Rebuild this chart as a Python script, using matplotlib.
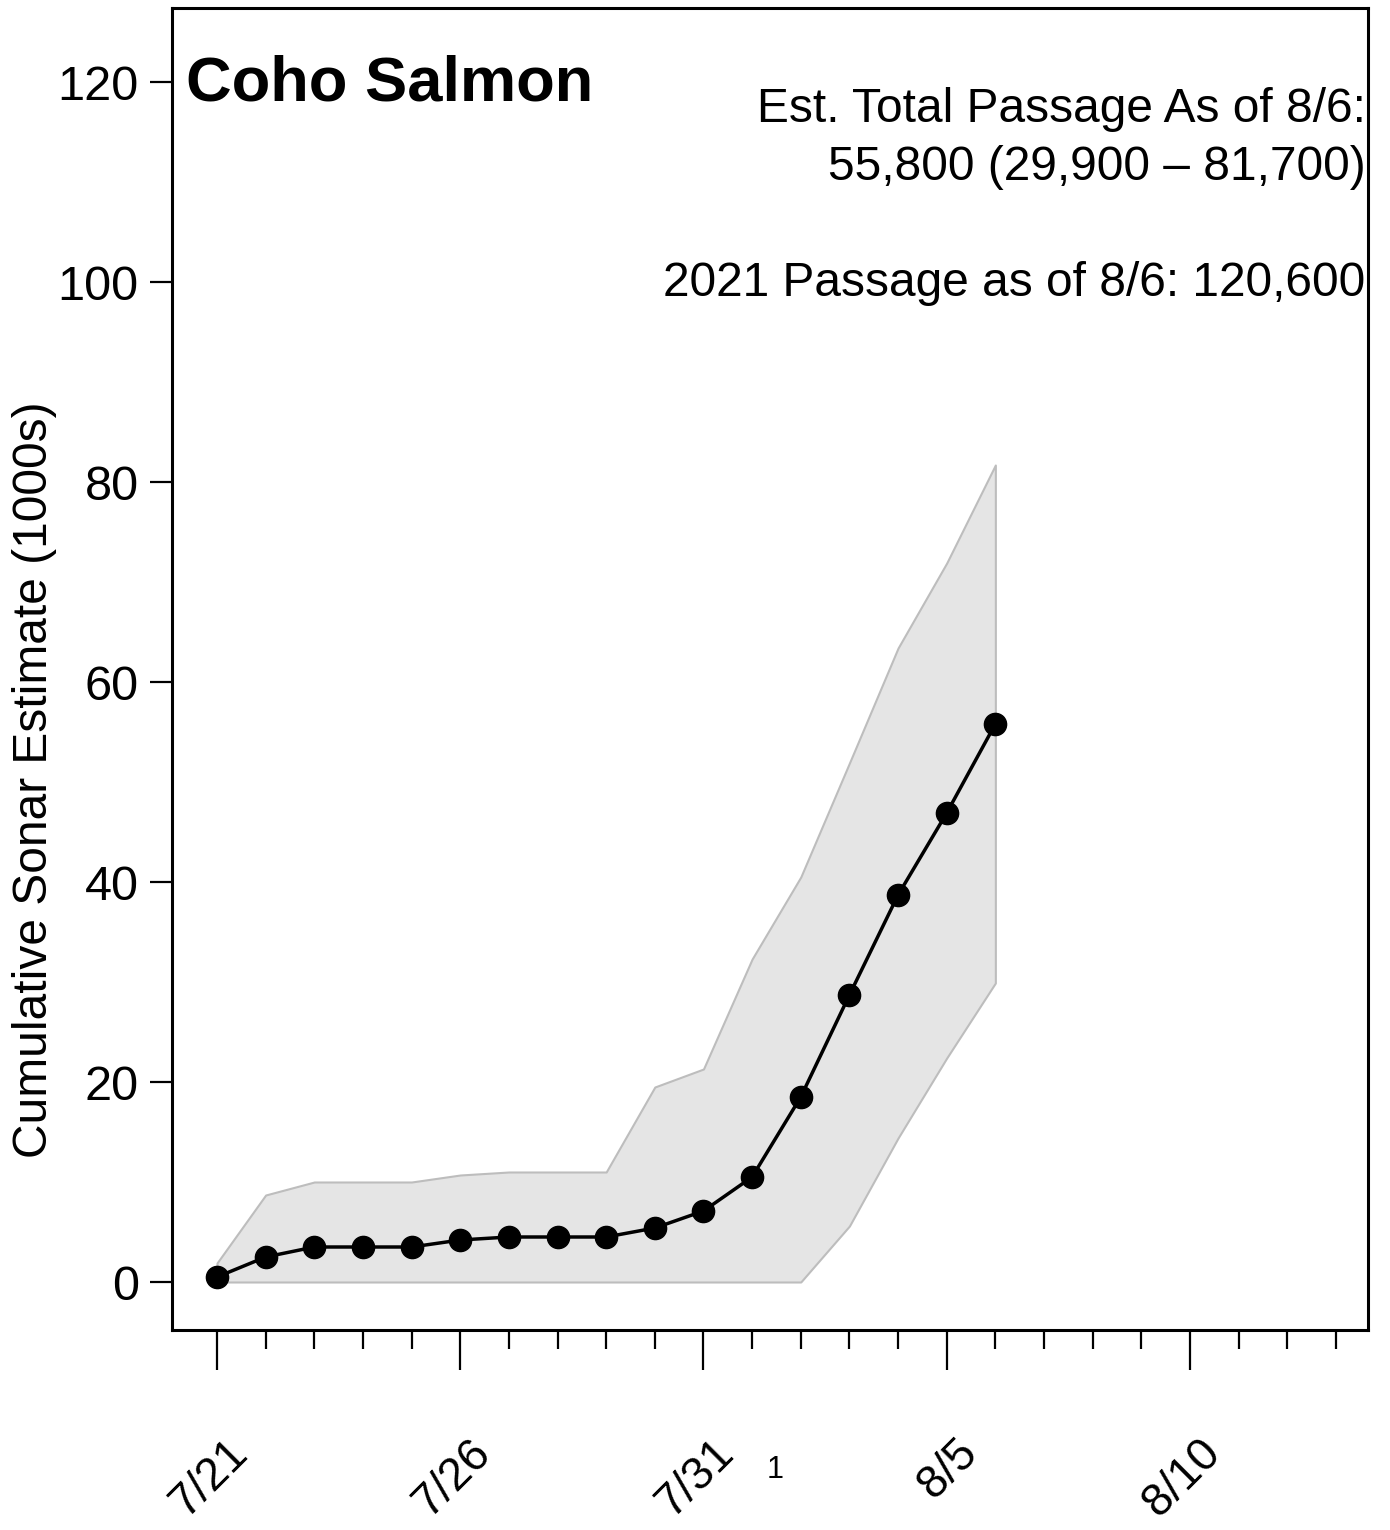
import numpy as np
import matplotlib.pyplot as plt
import matplotlib.transforms as mtransforms

plt.rcParams['font.family'] = ['Liberation Sans', 'DejaVu Sans']

# days since 7/21
days = np.arange(17)
est = [0.5, 2.5, 3.5, 3.5, 3.5, 4.2, 4.5, 4.5, 4.5, 5.4, 7.1, 10.5, 18.5, 28.7, 38.7, 46.9, 55.8]
upper = [1.9, 8.7, 10.0, 10.0, 10.0, 10.7, 11.0, 11.0, 11.0, 19.5, 21.3, 32.3, 40.5, 51.9, 63.4, 71.9, 81.7]
lower = [0, 0, 0, 0, 0, 0, 0, 0, 0, 0, 0, 0, 0, 5.6, 14.4, 22.4, 29.9]

major_days = [0, 5, 10, 15, 20]
major_labels = ['7/21', '7/26', '7/31', '8/5', '8/10']
minor_days = np.arange(24)

fig = plt.figure(figsize=(13.9, 15.3), dpi=100)
ax = fig.add_axes([172/1390, 1-1330/1530, (1368-172)/1390, (1330-8)/1530])

ax.fill_between(days, lower, upper, facecolor='#e5e5e5', edgecolor='#bdbdbd', linewidth=1.5)
ax.plot(days, est, color='black', lw=2.5, marker='o', markersize=16)

ax.set_xlim(-0.925, 23.66)
ax.set_ylim(-4.8, 127.4)

ax.set_yticks([0, 20, 40, 60, 80, 100, 120])
ax.tick_params(axis='y', labelsize=35, length=16, width=1.6, pad=8, direction='out')
ax.set_xticks(major_days)
ax.set_xticklabels([])
ax.set_xticks(minor_days, minor=True)
ax.tick_params(axis='x', which='major', length=29, width=1.6, direction='out')
ax.tick_params(axis='x', which='minor', length=14, width=1.6, direction='out')
for s in ax.spines.values():
    s.set_linewidth(2.2)

# rotated date labels
for d, lab in zip(major_days, major_labels):
    tr = mtransforms.blended_transform_factory(ax.transData, fig.transFigure)
    tr = tr + mtransforms.ScaledTranslation(0.24, 0, fig.dpi_scale_trans)
    ax.text(d, 1-1446/1530, lab, transform=tr, rotation=45, rotation_mode='anchor',
            ha='right', va='center', fontsize=33)

fig.text(775/1390, 1-1470/1530, '1', fontsize=22, ha='center', va='center')

fig.text(35/1390, 1-780/1530, 'Cumulative Sonar Estimate (1000s)', rotation=90,
         fontsize=34.5, ha='center', va='center')

ax.text(0.012, 0.930, 'Coho Salmon', transform=ax.transAxes, fontsize=45.5,
        fontweight='bold', ha='left', va='baseline')
ax.text(0.998, 0.9138, 'Est. Total Passage As of 8/6:', transform=ax.transAxes,
        fontsize=34.5, ha='right', va='baseline')
ax.text(0.998, 0.8699, '55,800 (29,900 \u2013 81,700)', transform=ax.transAxes,
        fontsize=34.5, ha='right', va='baseline')
ax.text(0.998, 0.7821, '2021 Passage as of 8/6: 120,600', transform=ax.transAxes,
        fontsize=34.5, ha='right', va='baseline')

fig.savefig('out.png', dpi=100)
